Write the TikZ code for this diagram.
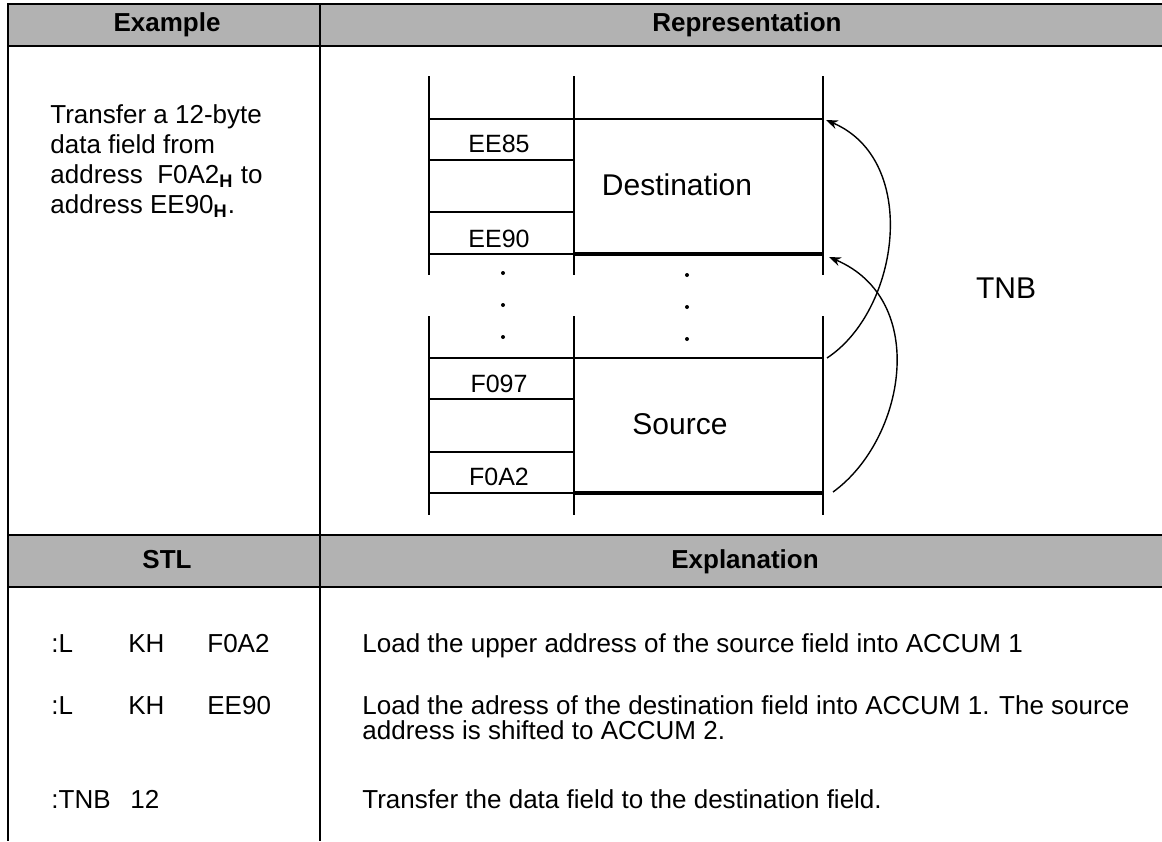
\documentclass[tikz,border=0pt]{standalone}
\usepackage{fontspec}
\setmainfont{Liberation Sans}
\usetikzlibrary{arrows.meta}

\begin{document}
\begin{tikzpicture}[x=0.5pt,y=-0.5pt,
    every node/.style={inner sep=0pt},
    band/.style={fill=black!30},
    frame/.style={line width=1pt},
    cell/.style={line width=0.75pt},
    bold line/.style={line width=2.2pt},
    hdr/.style={font=\fontsize{13}{15}\selectfont\bfseries, anchor=base},
    body/.style={font=\fontsize{13}{15}\selectfont, anchor=base west},
    addr/.style={font=\fontsize{12.5}{15}\selectfont},
    big/.style={font=\fontsize{15}{18}\selectfont},
    move/.style={-{Stealth[length=6pt,width=4.5pt,inset=2pt]}, line width=0.7pt}]
            \useasboundingbox (0,0) rectangle (1162,841);
            % table
            \fill [band] (8,4) rectangle (1162,46);
            \fill [band] (8,535) rectangle (1162,587);
            \draw [frame] (1162,4) -- (8,4) -- (8,841);
            \draw [frame] (320,4) -- (320,841);
            \draw [frame] (8,46) -- (1162,46);
            \draw [frame] (8,535) -- (1162,535);
            \draw [frame] (8,587) -- (1162,587);
            \node [hdr] (hexample) at (167,31) {Example};
            \node [hdr] (hrepr) at (747,31) {Representation};
            \node [hdr] (hstl) at (167,568) {STL};
            \node [hdr] (hexpl) at (745,568) {Explanation};
            % example text
            \node [body] (task1) at (50,123) {Transfer a 12-byte};
            \node [body] (task2) at (50,153) {data field from};
            \node [body] (task3) at (50,183) {address\ \ F0A2\textsubscript{\textbf{H}} to};
            \node [body] (task4) at (50,213) {address EE90\textsubscript{\textbf{H}}.};
            % destination field
            \draw [cell] (429,76) -- (429,275);
            \draw [cell] (574,76) -- (574,275);
            \draw [cell] (823,76) -- (823,275);
            \draw [cell] (429,119) -- (823,119);
            \draw [cell] (429,160) -- (574,160);
            \draw [cell] (429,212) -- (574,212);
            \draw [cell] (429,254) -- (574,254);
            \draw [bold line] (574,254) -- (823,254);
            \node [addr] (ee85) at (499,144) {EE85};
            \node [addr] (ee90) at (499,239) {EE90};
            \node [big] (dest) at (677,185) {Destination};
            % gap
            \foreach \y in {273,305,337} {
                \fill (503,\y) circle (2);
                \fill (687,\y+2) circle (2);
            }
            % source field
            \draw [cell] (429,316) -- (429,515);
            \draw [cell] (574,316) -- (574,515);
            \draw [cell] (823,316) -- (823,515);
            \draw [cell] (429,358) -- (823,358);
            \draw [cell] (429,399) -- (574,399);
            \draw [cell] (429,452) -- (574,452);
            \draw [cell] (429,493) -- (574,493);
            \draw [bold line] (574,493) -- (823,493);
            \node [addr] (f097) at (499,384) {F097};
            \node [addr] (f0a2) at (499,477) {F0A2};
            \node [big] (src) at (680,424) {Source};
            % transfer arrows
            \coordinate (srctop) at (827,358);
            \coordinate (dsttop) at (826,120);
            \coordinate (srcbot) at (833,492);
            \coordinate (dstbot) at (829,257);
            \draw [move] (srctop) .. controls +(73,-48) and +(94,40) .. (dsttop);
            \draw [move] (srcbot) .. controls +(72,-52) and +(101,43) .. (dstbot);
            \node [big] (tnb) at (1006,288) {TNB};
            % STL and explanation
            \node [body] (l1) at (51,652) {:L};
            \node [body] (kh1) at (128,652) {KH};
            \node [body] (k1) at (207,652) {F0A2};
            \node [body] (e1) at (362,652) {Load the upper address of the source field into ACCUM 1};
            \node [body] (l2) at (51,714) {:L};
            \node [body] (kh2) at (128,714) {KH};
            \node [body] (k2) at (207,714) {EE90};
            \node [body] (e2) at (362,714) {Load the adress of the destination field into ACCUM 1. The source};
            \node [body] (e2b) at (362,739) {address is shifted to ACCUM 2.};
            \node [body] (tnb3) at (51,808) {:TNB};
            \node [body] (n3) at (130,808) {12};
            \node [body] (e3) at (362,808) {Transfer the data field to the destination field.};
\end{tikzpicture}
\end{document}
